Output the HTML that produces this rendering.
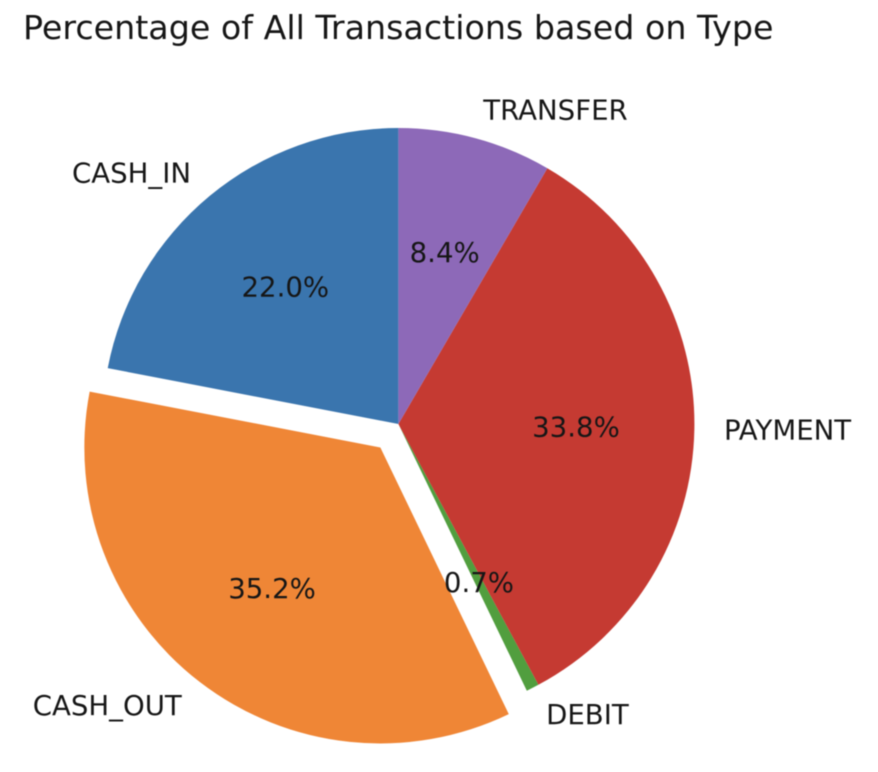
<!DOCTYPE html>
<html lang="en">
<head>
<meta charset="utf-8">
<title>Percentage of All Transactions based on Type</title>
<style>
  html, body { margin: 0; padding: 0; background: #fff; width: 878px; height: 772px; overflow: hidden; }
  #chart { display: block; width: 878px; height: 772px; filter: blur(0.6px); }
  text { font-family: "DejaVu Sans", "Liberation Sans", sans-serif; fill: #161616; }
</style>
</head>
<body>
<svg id="chart" xmlns="http://www.w3.org/2000/svg" width="878" height="772" viewBox="0 0 878 772">
  <text x="23" y="39" font-size="33.3">Percentage of All Transactions based on Type</text>
  <g id="wedges"></g>
  <g id="labels"></g>
</svg>
<script>
const categories = ['CASH_IN', 'CASH_OUT', 'DEBIT', 'PAYMENT', 'TRANSFER'];
const shares = [22.0, 35.2, 0.7, 33.8, 8.4];
const explodedCategory = 'CASH_OUT';
const palette = ['#3a75ae', '#ef8636', '#519e3e', '#c53a32', '#8d69b8'];

const NS = 'http://www.w3.org/2000/svg';
const cx = 398.4, cy = 424, radius = 296;
const startAngle = 90, explodeAmount = 0.1;
const labelFont = 27.6, pctFont = 27.6;

const total = shares.reduce((a, b) => a + b, 0);
const wedgeGroup = document.getElementById('wedges');
const labelGroup = document.getElementById('labels');
const toX = (ox, r, deg) => ox + r * Math.cos(deg * Math.PI / 180);
const toY = (oy, r, deg) => oy - r * Math.sin(deg * Math.PI / 180);

function addText(str, x, y, size, anchor) {
  const t = document.createElementNS(NS, 'text');
  t.setAttribute('x', x.toFixed(2));
  t.setAttribute('y', (y + size * 0.35).toFixed(2));
  t.setAttribute('font-size', size);
  t.setAttribute('text-anchor', anchor);
  t.textContent = str;
  labelGroup.appendChild(t);
  return t;
}

let angle = startAngle;
categories.forEach((cat, i) => {
  const sweep = shares[i] / total * 360;
  const a0 = angle, a1 = angle + sweep, mid = (a0 + a1) / 2;
  const offset = cat === explodedCategory ? explodeAmount * radius : 0;
  const ox = toX(cx, offset, mid), oy = toY(cy, offset, mid);

  const p = document.createElementNS(NS, 'path');
  p.setAttribute('d',
    'M' + ox.toFixed(2) + ' ' + oy.toFixed(2) +
    'L' + toX(ox, radius, a0).toFixed(2) + ' ' + toY(oy, radius, a0).toFixed(2) +
    'A' + radius + ' ' + radius + ' 0 ' + (sweep > 180 ? 1 : 0) + ' 0 ' +
    toX(ox, radius, a1).toFixed(2) + ' ' + toY(oy, radius, a1).toFixed(2) + 'Z');
  p.setAttribute('fill', palette[i]);
  
  
  wedgeGroup.appendChild(p);

  const lx = toX(ox, radius * 1.1, mid), ly = toY(oy, radius * 1.1, mid);
  const catLabel = addText(cat, lx, ly, labelFont, lx < cx ? 'end' : 'start');
  
  

  const px = toX(ox, radius * 0.6, mid), py = toY(oy, radius * 0.6, mid);
  const pctLabel = addText((shares[i] / total * 100).toFixed(1) + '%', px, py, pctFont, 'middle');
  
  

  angle = a1;
});
</script>
</body>
</html>
